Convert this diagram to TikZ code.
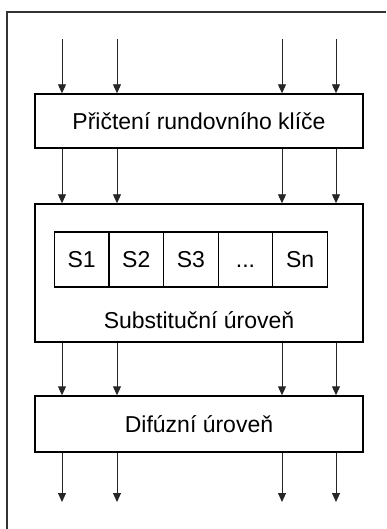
\documentclass[tikz,border=0pt]{standalone}
\usepackage{fontspec}
\setmainfont{Liberation Sans}
\usetikzlibrary{arrows.meta}
\begin{document}
\begin{tikzpicture}[x=1pt,y=-1pt,
  lbl/.style={font=\fontsize{23}{27}\selectfont,text height=16.5pt,text depth=0pt,inner sep=0pt},
  box/.style={lbl,draw=black,line width=1.4pt,minimum width=328pt},
  sbox/.style={lbl,draw=black,line width=1.2pt,minimum width=54.6pt,minimum height=55pt},
  arr/.style={draw=black!85,line width=0.9pt,-{Triangle[length=9pt,width=8pt]}},
  frame/.style={draw=black!80,line width=1.6pt}
]
\useasboundingbox (0,0) rectangle (386,529);
\draw[frame] (7,529) -- (7,12) -- (386,12);
\node[box,minimum height=54pt] (b1) at (199,121) {Přičtení rundovního klíče};
\node[box,minimum height=138pt] (b2) at (199,273) {};
\node[box,minimum height=56pt] (b3) at (199,424) {Difúzní úroveň};
\node[sbox] (s1) at (81.7,259.5) {S1};
\node[sbox] (s2) at (136.3,259.5) {S2};
\node[sbox] (s3) at (190.9,259.5) {S3};
\node[sbox] (s4) at (245.5,259.5) {...};
\node[sbox] (s5) at (300.1,259.5) {Sn};
\node[lbl] (sublbl) at (199,320) {Substituční úroveň};
\coordinate (t1) at (62,39);
\coordinate (t2) at (117,39);
\coordinate (t3) at (282,39);
\coordinate (t4) at (336,39);
\coordinate (e1) at (62,502);
\coordinate (e2) at (117,502);
\coordinate (e3) at (282,502);
\coordinate (e4) at (336,502);
\foreach \i in {1,2,3,4}{
  \draw[arr] (t\i) -- (t\i |- b1.north);
  \draw[arr] (t\i |- b1.south) -- (t\i |- b2.north);
  \draw[arr] (t\i |- b2.south) -- (t\i |- b3.north);
  \draw[arr] (e\i |- b3.south) -- (e\i);
}
\end{tikzpicture}
\end{document}
